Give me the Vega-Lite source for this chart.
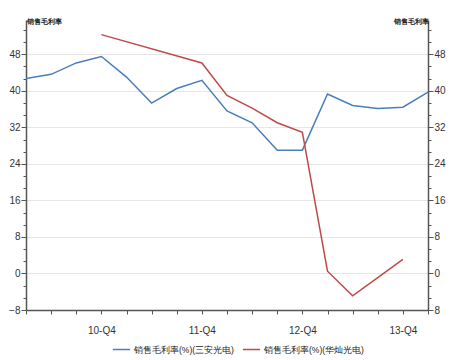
{
  "$schema": "https://vega.github.io/schema/vega-lite/v6.json",
  "width": 402,
  "height": 290,
  "autosize": {"type": "none"},
  "padding": {"left": 26, "top": 20, "right": 31, "bottom": 50},
  "background": "white",
  "config": {
    "view": {"stroke": null},
    "font": "Liberation Sans",
    "axis": {
      "domainColor": "#555555",
      "domainWidth": 1.5,
      "tickColor": "#555555",
      "labelColor": "#333333",
      "labelFontSize": 10,
      "gridColor": "#e6e6e6",
      "titleFontSize": 7,
      "titleFontWeight": "bold",
      "titleColor": "#222222"
    }
  },
  "datasets": {
    "d": [
      {"q": "10-Q1", "s": "销售毛利率(%)(三安光电)", "v": 42.7},
      {"q": "10-Q2", "s": "销售毛利率(%)(三安光电)", "v": 43.6},
      {"q": "10-Q3", "s": "销售毛利率(%)(三安光电)", "v": 46.1},
      {"q": "10-Q4", "s": "销售毛利率(%)(三安光电)", "v": 47.5},
      {"q": "11-Q1", "s": "销售毛利率(%)(三安光电)", "v": 43.0},
      {"q": "11-Q2", "s": "销售毛利率(%)(三安光电)", "v": 37.3},
      {"q": "11-Q3", "s": "销售毛利率(%)(三安光电)", "v": 40.5},
      {"q": "11-Q4", "s": "销售毛利率(%)(三安光电)", "v": 42.3},
      {"q": "12-Q1", "s": "销售毛利率(%)(三安光电)", "v": 35.6},
      {"q": "12-Q2", "s": "销售毛利率(%)(三安光电)", "v": 33.0},
      {"q": "12-Q3", "s": "销售毛利率(%)(三安光电)", "v": 27.0},
      {"q": "12-Q4", "s": "销售毛利率(%)(三安光电)", "v": 27.0},
      {"q": "13-Q1", "s": "销售毛利率(%)(三安光电)", "v": 39.3},
      {"q": "13-Q2", "s": "销售毛利率(%)(三安光电)", "v": 36.8},
      {"q": "13-Q3", "s": "销售毛利率(%)(三安光电)", "v": 36.1},
      {"q": "13-Q4", "s": "销售毛利率(%)(三安光电)", "v": 36.4},
      {"q": "14-Q1", "s": "销售毛利率(%)(三安光电)", "v": 39.7},
      {"q": "10-Q4", "s": "销售毛利率(%)(华灿光电)", "v": 52.3},
      {"q": "11-Q4", "s": "销售毛利率(%)(华灿光电)", "v": 46.1},
      {"q": "12-Q1", "s": "销售毛利率(%)(华灿光电)", "v": 39.0},
      {"q": "12-Q2", "s": "销售毛利率(%)(华灿光电)", "v": 36.2},
      {"q": "12-Q3", "s": "销售毛利率(%)(华灿光电)", "v": 33.0},
      {"q": "12-Q4", "s": "销售毛利率(%)(华灿光电)", "v": 30.9},
      {"q": "13-Q1", "s": "销售毛利率(%)(华灿光电)", "v": 0.5},
      {"q": "13-Q2", "s": "销售毛利率(%)(华灿光电)", "v": -4.9},
      {"q": "13-Q3", "s": "销售毛利率(%)(华灿光电)", "v": -0.9},
      {"q": "13-Q4", "s": "销售毛利率(%)(华灿光电)", "v": 3.1}
    ]
  },
  "data": {"name": "d"},
  "encoding": {
    "x": {
      "field": "q",
      "type": "ordinal",
      "scale": {
        "type": "point",
        "padding": 0,
        "domain": ["10-Q1","10-Q2","10-Q3","10-Q4","11-Q1","11-Q2","11-Q3","11-Q4","12-Q1","12-Q2","12-Q3","12-Q4","13-Q1","13-Q2","13-Q3","13-Q4","14-Q1"]
      },
      "axis": {
        "title": null,
        "grid": false,
        "labelAngle": 0,
        "tickSize": 4,
        "labelPadding": 11,
        "labelExpr": "test(/Q4/, datum.label) ? datum.label : ''"
      }
    },
    "color": {
      "field": "s",
      "type": "nominal",
      "scale": {
        "domain": ["销售毛利率(%)(三安光电)", "销售毛利率(%)(华灿光电)"],
        "range": ["#4a7ebb", "#be4b48"]
      },
      "legend": {
        "orient": "none",
        "legendX": 86,
        "legendY": 320,
        "direction": "horizontal",
        "title": null,
        "symbolType": "stroke",
        "symbolStrokeWidth": 1.5,
        "symbolSize": 300,
        "labelFontSize": 8.5,
        "labelOffset": 3,
        "labelColor": "#222222",
        "columnPadding": 5
      }
    }
  },
  "layer": [
    {
      "transform": [{"filter": "datum.s === '销售毛利率(%)(三安光电)'"}],
      "mark": {"type": "line", "strokeWidth": 1.5},
      "encoding": {
        "y": {
          "field": "v",
          "type": "quantitative",
          "scale": {"domain": [-8, 55.5], "nice": false, "zero": false},
          "axis": {
            "orient": "left",
            "title": "销售毛利率",
            "titleAngle": 0,
            "titleAlign": "left",
            "titleBaseline": "middle",
            "titleX": 0,
            "titleY": 1,
            "values": [-8,-5.333,-2.667,0,2.667,5.333,8,10.667,13.333,16,18.667,21.333,24,26.667,29.333,32,34.667,37.333,40,42.667,45.333,48,50.667,53.333],
            "labelExpr": "abs(datum.value % 8) < 0.01 ? datum.label : ''",
            "tickSize": {"condition": {"test": "abs(datum.value % 8) < 0.01", "value": 5}, "value": 3},
            "gridOpacity": {"condition": {"test": "abs(datum.value % 8) < 0.01", "value": 1}, "value": 0},
            "grid": true,
            "labelPadding": 1
          }
        }
      }
    },
    {
      "transform": [{"filter": "datum.s === '销售毛利率(%)(华灿光电)'"}],
      "mark": {"type": "line", "strokeWidth": 1.5},
      "encoding": {
        "y": {
          "field": "v",
          "type": "quantitative",
          "scale": {"domain": [-8, 55.5], "nice": false, "zero": false},
          "axis": {
            "orient": "right",
            "title": "销售毛利率",
            "titleAngle": 0,
            "titleAlign": "right",
            "titleBaseline": "middle",
            "titleX": 0,
            "titleY": 1,
            "grid": false,
            "values": [-8,-5.333,-2.667,0,2.667,5.333,8,10.667,13.333,16,18.667,21.333,24,26.667,29.333,32,34.667,37.333,40,42.667,45.333,48,50.667,53.333],
            "labelExpr": "abs(datum.value % 8) < 0.01 ? (datum.value < 0 ? '8' : datum.label) : ''",
            "tickSize": {"condition": {"test": "abs(datum.value % 8) < 0.01", "value": 5}, "value": 3},
            "labelPadding": 1
          }
        }
      }
    }
  ],
  "resolve": {"scale": {"y": "independent"}}
}
